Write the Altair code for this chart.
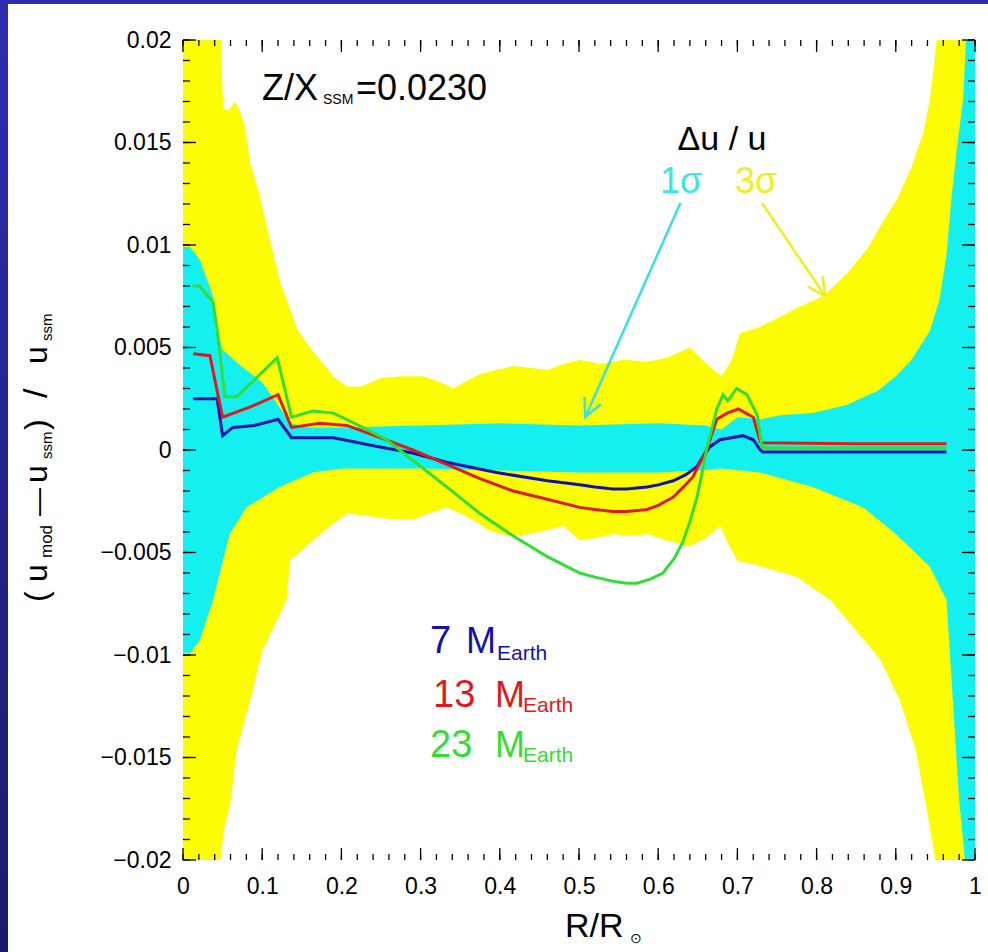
import altair as alt
import pandas as pd
import numpy as np

# ---------------- data ----------------
# 3-sigma band (yellow): upper and lower edges
y3_up_r = [0.0, 0.047, 0.049, 0.051, 0.058, 0.066, 0.072, 0.078, 0.085, 0.097, 0.107, 0.122, 0.144,
           0.160, 0.173, 0.190, 0.207, 0.225, 0.249, 0.275, 0.303, 0.325, 0.341, 0.360, 0.375, 0.395,
           0.417, 0.440, 0.460, 0.480, 0.501, 0.526, 0.556, 0.586, 0.611, 0.640, 0.661, 0.680, 0.693,
           0.703, 0.728, 0.754, 0.779, 0.808, 0.838, 0.864, 0.880, 0.901, 0.920, 0.935, 0.943, 0.955,
           0.960, 1.0]
y3_up_v = [0.05, 0.025, 0.0185, 0.0166, 0.0166, 0.0170, 0.0165, 0.0158, 0.0140, 0.0124, 0.0107, 0.0083,
           0.0059, 0.0050, 0.0044, 0.0036, 0.0031, 0.0031, 0.0035, 0.0036, 0.0036, 0.0033, 0.0030, 0.0034,
           0.0037, 0.0039, 0.0041, 0.0040, 0.0039, 0.0042, 0.0044, 0.0042, 0.0044, 0.0043, 0.0045, 0.0050,
           0.0042, 0.0036, 0.0044, 0.0057, 0.0060, 0.0065, 0.0070, 0.0075, 0.0086, 0.0098, 0.0109, 0.0122,
           0.0138, 0.0155, 0.0171, 0.0210, 0.030, 0.05]
y3_lo_r = [0.0, 0.045, 0.047, 0.052, 0.060, 0.068, 0.085, 0.100, 0.131, 0.135, 0.164, 0.190, 0.207,
           0.230, 0.249, 0.270, 0.290, 0.310, 0.333, 0.350, 0.366, 0.385, 0.400, 0.420, 0.438, 0.460,
           0.480, 0.501, 0.520, 0.543, 0.565, 0.586, 0.610, 0.640, 0.660, 0.678, 0.690, 0.700, 0.732,
           0.775, 0.817, 0.850, 0.880, 0.905, 0.925, 0.937, 0.948, 0.955, 0.960, 1.0]
y3_lo_v = [-0.05, -0.025, -0.020, -0.0185, -0.0172, -0.0146, -0.0122, -0.0098, -0.0073, -0.0054, -0.0044,
           -0.0036, -0.0031, -0.0032, -0.0033, -0.0034, -0.0034, -0.0031, -0.0028, -0.0031, -0.0034,
           -0.0039, -0.0041, -0.0042, -0.0041, -0.0039, -0.0037, -0.0044, -0.0043, -0.0041, -0.0042,
           -0.0041, -0.0044, -0.0047, -0.0043, -0.0037, -0.0047, -0.0054, -0.0057, -0.0062, -0.0073,
           -0.0088, -0.0102, -0.0122, -0.0146, -0.0171, -0.0195, -0.022, -0.030, -0.05]

# 1-sigma band (cyan): upper and lower edges
s1_up_r = [0.0, 0.009, 0.021, 0.038, 0.043, 0.050, 0.070, 0.100, 0.120, 0.135, 0.160, 0.200, 0.300,
           0.400, 0.500, 0.600, 0.660, 0.680, 0.700, 0.729, 0.754, 0.795, 0.838, 0.878, 0.900, 0.920,
           0.943, 0.955, 0.964, 0.970, 0.978, 0.985, 0.990, 1.0]
s1_up_v = [0.0099, 0.0099, 0.0093, 0.0075, 0.0059, 0.0049, 0.0042, 0.0033, 0.0022, 0.0013, 0.0011,
           0.0011, 0.0012, 0.0013, 0.0012, 0.0013, 0.0012, 0.0010, 0.0016, 0.0015, 0.0017, 0.0018,
           0.0022, 0.0029, 0.0036, 0.0044, 0.0058, 0.0073, 0.0095, 0.0122, 0.0150, 0.0171, 0.021, 0.03]
s1_lo_r = [0.0, 0.009, 0.021, 0.038, 0.059, 0.080, 0.122, 0.164, 0.200, 0.300, 0.400, 0.500, 0.600,
           0.650, 0.680, 0.729, 0.795, 0.859, 0.900, 0.943, 0.964, 0.972, 0.980, 0.990, 1.0]
s1_lo_v = [-0.0099, -0.0099, -0.0093, -0.0073, -0.0041, -0.0028, -0.0018, -0.0011, -0.0009, -0.0009,
           -0.0010, -0.0011, -0.0011, -0.0010, -0.0009, -0.0011, -0.0018, -0.0028, -0.0041, -0.0057,
           -0.0073, -0.0122, -0.0171, -0.021, -0.03]

# model curves
m7_r = [0.013, 0.043, 0.050, 0.063, 0.090, 0.120, 0.137, 0.190, 0.249, 0.290, 0.333, 0.396, 0.460,
        0.501, 0.520, 0.543, 0.560, 0.586, 0.600, 0.619, 0.635, 0.649, 0.657, 0.665, 0.678, 0.707,
        0.720, 0.729, 0.732, 0.964]
m7_v = [0.0025, 0.0025, 0.0007, 0.0011, 0.0012, 0.0015, 0.0006, 0.0006, 0.00015, -0.00015, -0.0006,
        -0.0011, -0.0015, -0.0017, -0.0018, -0.0019, -0.0019, -0.0018, -0.0017, -0.0015, -0.0012,
        -0.0008, -0.0003, 0.00015, 0.0005, 0.0007, 0.0005, 0.0, -0.0001, -0.0001]
m13_r = [0.013, 0.034, 0.050, 0.085, 0.120, 0.137, 0.173, 0.207, 0.249, 0.290, 0.333, 0.375, 0.417,
         0.460, 0.501, 0.520, 0.543, 0.560, 0.586, 0.600, 0.619, 0.632, 0.644, 0.653, 0.661, 0.674,
         0.687, 0.701, 0.720, 0.729, 0.732, 0.850, 0.964]
m13_v = [0.0047, 0.0046, 0.0016, 0.0021, 0.0027, 0.0011, 0.0013, 0.0012, 0.0006, 0.0, -0.0007, -0.0014,
         -0.0020, -0.0024, -0.0028, -0.0029, -0.0030, -0.0030, -0.0029, -0.0027, -0.0023, -0.0018,
         -0.0013, -0.0006, 0.0, 0.0015, 0.0018, 0.0020, 0.0016, 0.0004, 0.00035, 0.0003, 0.0003]
m23_r = [0.012, 0.021, 0.038, 0.043, 0.053, 0.068, 0.119, 0.137, 0.164, 0.190, 0.227, 0.257, 0.290,
         0.333, 0.375, 0.417, 0.460, 0.501, 0.520, 0.543, 0.560, 0.573, 0.590, 0.606, 0.620, 0.631,
         0.640, 0.649, 0.655, 0.661, 0.674, 0.682, 0.688, 0.699, 0.712, 0.725, 0.731, 0.740, 0.964]
m23_v = [0.0080, 0.0080, 0.0072, 0.0059, 0.0026, 0.0026, 0.0045, 0.0016, 0.0019, 0.0018, 0.0011, 0.0005,
         -0.0005, -0.0018, -0.0031, -0.0042, -0.0052, -0.0060, -0.0062, -0.0064, -0.0065, -0.0065,
         -0.0063, -0.0060, -0.0053, -0.0045, -0.0035, -0.0023, -0.0012, 0.0, 0.0020, 0.0027, 0.0024,
         0.0030, 0.0027, 0.0017, 0.00015, 0.0001, 0.0001]

# axis ticks
x_major = [0.0, 0.1, 0.2, 0.3, 0.4, 0.5, 0.6, 0.7, 0.8, 0.9, 1.0]
y_major = [-0.02, -0.015, -0.01, -0.005, 0.0, 0.005, 0.01, 0.015, 0.02]
x_minor = list(np.round(np.arange(0, 1.0001, 0.02), 3))
y_minor = list(np.round(np.arange(-0.02, 0.02001, 0.001), 4))

# arrows (data units): start and tip
arrow_1s = dict(r=0.628, v=0.01205, r2=0.508, v2=0.00161)
arrow_3s = dict(r=0.731, v=0.01205, r2=0.811, v2=0.00750)

# ---------------- styling ----------------
FONT = "Liberation Sans"
W, H = 792, 820
OX, OY = 183, 40           # plot origin on the page
YELLOW = "#fcfc05"
CYAN = "#14f0f0"
C7, C13, C23 = "#1212a8", "#dc1c1c", "#35dc35"

xs = alt.Scale(domain=[0, 1], nice=False, zero=False)
ys = alt.Scale(domain=[-0.02, 0.02], nice=False, zero=False)
x_axis = alt.Axis(values=x_major, format="~g", labelFontSize=23, labelFont=FONT, labelColor="black",
                  ticks=False, tickSize=0, domain=False, grid=False, labelPadding=15, labelFlush=False,
                  title=None, zindex=5)
y_axis = alt.Axis(values=y_major, format="~g", labelFontSize=23, labelFont=FONT, labelColor="black",
                  ticks=False, tickSize=0, domain=False, grid=False, labelPadding=12, labelFlush=False,
                  title=None, zindex=5)

X = lambda f="r": alt.X(f"{f}:Q", scale=xs, axis=x_axis)
Y = lambda f="v": alt.Y(f"{f}:Q", scale=ys, axis=y_axis)

one = pd.DataFrame({"k": [0]})


def band(rr, vv, color, base):
    df = pd.DataFrame({"r": rr, "v": vv})
    return alt.Chart(df).mark_area(color=color, clip=True, opacity=1, interpolate="linear").encode(
        x=X(), y=Y(), y2=alt.datum(base))


def curve(rr, vv, color):
    df = pd.DataFrame({"r": rr, "v": vv})
    return alt.Chart(df).mark_line(color=color, strokeWidth=3, clip=True).encode(x=X(), y=Y())


def txt(s, x, y, size, color="black", align="left", angle=0, baseline="alphabetic"):
    return alt.Chart(one).mark_text(text=s, fontSize=size, color=color, align=align, angle=angle,
                                    baseline=baseline, font=FONT).encode(
        x=alt.value(x - OX), y=alt.value(y - OY))


# page background (blue border + white panel)
bg = alt.Chart(one).mark_rect(fill=alt.LinearGradient(
    gradient="linear", x1=0, x2=0, y1=0, y2=1,
    stops=[alt.GradientStop(color="#2d2db0", offset=0), alt.GradientStop(color="#1a1a6a", offset=1)]
)).encode(x=alt.value(-OX), x2=alt.value(988 - OX), y=alt.value(-OY), y2=alt.value(952 - OY))
panel = alt.Chart(one).mark_rect(fill="white").encode(
    x=alt.value(8 - OX), x2=alt.value(988 - OX), y=alt.value(4 - OY), y2=alt.value(952 - OY))

layers = [
    bg, panel,
    band(y3_up_r, y3_up_v, YELLOW, 0.0),
    band(y3_lo_r, y3_lo_v, YELLOW, 0.0),
    band(s1_up_r, s1_up_v, CYAN, -0.0004),
    band(s1_lo_r, s1_lo_v, CYAN, 0.0004),
    curve(m7_r, m7_v, C7),
    curve(m13_r, m13_v, C13),
    curve(m23_r, m23_v, C23),
]

# inward ticks on all four sides
xmaj = pd.DataFrame({"r": x_major})
xmin = pd.DataFrame({"r": x_minor})
ymaj = pd.DataFrame({"v": y_major})
ymin = pd.DataFrame({"v": y_minor})
for df, ln in [(xmaj, 12), (xmin, 6)]:
    layers.append(alt.Chart(df).mark_rule(color="black", strokeWidth=1.3).encode(
        x=X(), y=alt.value(0), y2=alt.value(ln)))
    layers.append(alt.Chart(df).mark_rule(color="black", strokeWidth=1.3).encode(
        x=X(), y=alt.value(H), y2=alt.value(H - ln)))
for df, ln in [(ymaj, 13), (ymin, 7)]:
    layers.append(alt.Chart(df).mark_rule(color="black", strokeWidth=1.3).encode(
        y=Y(), x=alt.value(0), x2=alt.value(ln)))
    layers.append(alt.Chart(df).mark_rule(color="black", strokeWidth=1.3).encode(
        y=Y(), x=alt.value(W), x2=alt.value(W - ln)))

# arrows
for a, col, ang in [(arrow_1s, "#38e0e0", 204), (arrow_3s, "#f2ee1e", 146)]:
    adf = pd.DataFrame([a])
    layers.append(alt.Chart(adf).mark_rule(color=col, strokeWidth=2.5).encode(
        x=X(), y=Y(), x2="r2:Q", y2="v2:Q"))
    layers.append(alt.Chart(adf).mark_point(shape="M -0.5 1 L 0 0 L 0.5 1", filled=False, size=1300,
                                            angle=ang, strokeWidth=2.5, color=col, opacity=1).encode(
        x=alt.X("r2:Q", scale=xs, axis=x_axis), y=alt.Y("v2:Q", scale=ys, axis=y_axis)))

# annotation texts
layers += [
    txt("Z/X", 262, 100, 36),
    txt("SSM", 323, 104, 14),
    txt("=0.0230", 356, 100, 36),
    txt("Δu / u", 722, 150, 34, align="center"),
    txt("1σ", 660, 193, 36, color="#3ee4e4"),
    txt("3σ", 735, 193, 36, color="#f2ee1e"),
    txt("7", 430, 653, 38, color=C7), txt("M", 466, 653, 36, color=C7), txt("Earth", 497, 660, 21, color=C7),
    txt("13", 433, 707, 38, color=C13), txt("M", 495, 707, 36, color=C13), txt("Earth", 523, 712, 21, color=C13),
    txt("23", 430, 757, 38, color=C23), txt("M", 495, 757, 36, color=C23), txt("Earth", 523, 762, 21, color=C23),
    # x title R/R_sun
    txt("R/R", 565, 937, 34),
    txt("⊙", 630, 943, 14),
    # y title (u_mod - u_ssm)/u_ssm, rotated
    txt("(", 47, 602, 32, angle=270),
    txt("u", 47, 582, 32, angle=270),
    txt("mod", 52, 558, 17, angle=270),
    txt("—", 47, 516, 28, angle=270),
    txt("u", 47, 483, 32, angle=270),
    txt("ssm", 52, 459, 15, angle=270),
    txt(")", 47, 430, 32, angle=270),
    txt("/", 47, 398, 34, angle=270),
    txt("u", 47, 364, 32, angle=270),
    txt("ssm", 52, 341, 15, angle=270),
]

chart = alt.layer(*layers).properties(
    width=W, height=H,
    autosize=alt.AutoSizeParams(type="none"),
    padding={"left": OX, "top": OY, "right": 988 - OX - W, "bottom": 952 - OY - H},
).configure_view(stroke="black", strokeWidth=1.6, fill="white").configure(background="#2a2aa6")

chart.save("out.html", embed_options={"renderer": "svg", "actions": False})
